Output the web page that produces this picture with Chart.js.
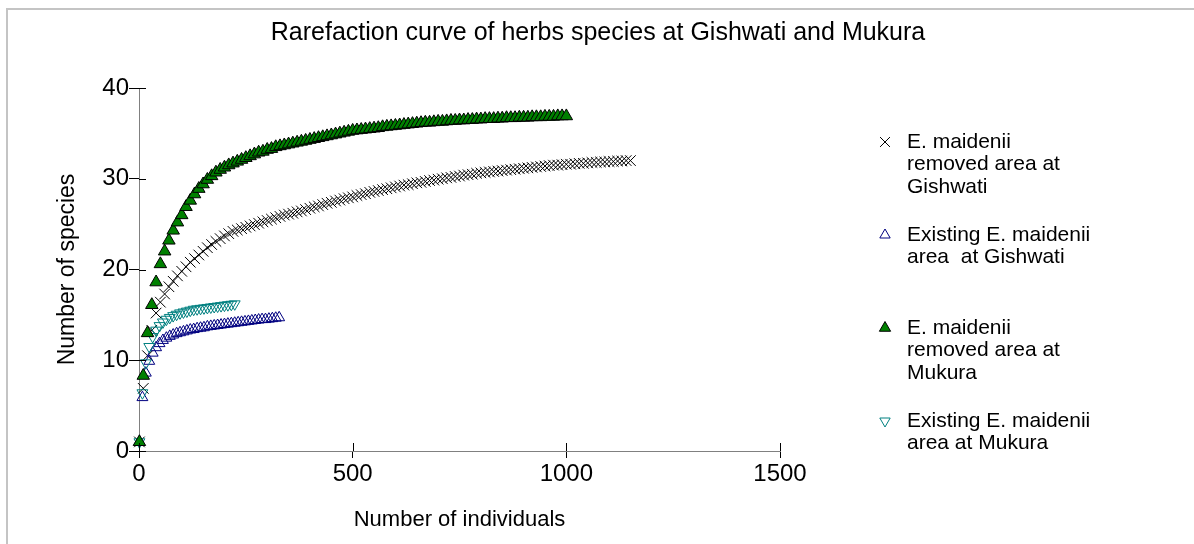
<!DOCTYPE html>
<html>
<head>
<meta charset="utf-8">
<script src="https://cdn.jsdelivr.net/npm/chart.js@4.4.1/dist/chart.umd.min.js"></script>
<style>
html, body { margin: 0; padding: 0; background: #fff; }
#wrap { width: 1194px; height: 544px; }
</style>
</head>
<body>
<div id="wrap"><canvas id="rarefactionChart" width="1194" height="544"></canvas></div>
<script>
var FONT = "'Liberation Sans', Arial, Helvetica, sans-serif";
var titleText = 'Rarefaction curve of herbs species at Gishwati and Mukura';
var xAxisTitle = 'Number of individuals';
var yAxisTitle = 'Number of species';
var xTicks = [0, 500, 1000, 1500];
var yTicks = [0, 10, 20, 30, 40];

// E. maidenii removed area at Gishwati (crosses)
var removedGishwatiX = [1,10,20,30,40,50,60,70,80,90,100,110,120,130,140,150,160,170,180,190,200,210,220,230,240,250,260,270,280,290,300,310,320,330,340,350,360,370,380,390,400,410,420,430,440,450,460,470,480,490,500,510,520,530,540,550,560,570,580,590,600,610,620,630,640,650,660,670,680,690,700,710,720,730,740,750,760,770,780,790,800,810,820,830,840,850,860,870,880,890,900,910,920,930,940,950,960,970,980,990,1000,1010,1020,1030,1040,1050,1060,1070,1080,1090,1100,1110,1120,1130,1140,1150];
var removedGishwatiY = [1,6.9,10.5,13.3,15.2,16.4,17.3,18.1,18.7,19.3,
  19.8,20.3,20.8,21.2,21.6,22.0,22.4,22.75,23.1,23.4,
  23.7,23.95,24.2,24.35,24.5,24.65,24.8,24.95,25.1,25.25,
  25.4,25.55,25.7,25.85,26.0,26.1,26.2,26.35,26.45,26.6,
  26.75,26.9,27.0,27.15,27.3,27.4,27.55,27.65,27.8,27.9,
  28.0,28.15,28.25,28.35,28.5,28.6,28.7,28.8,28.9,29.0,
  29.1,29.2,29.3,29.35,29.45,29.55,29.6,29.7,29.8,29.85,
  29.95,30.0,30.1,30.15,30.25,30.3,30.4,30.45,30.5,30.6,
  30.65,30.7,30.75,30.8,30.85,30.9,30.95,31.0,31.05,31.1,
  31.15,31.2,31.25,31.3,31.35,31.4,31.45,31.5,31.5,31.55,
  31.6,31.6,31.65,31.7,31.7,31.75,31.8,31.8,31.85,31.85,
  31.9,31.9,31.95,31.95,32.0,32.0];

// Existing E. maidenii area at Gishwati (open triangles)
var existingGishwatiX = [1,8,16,24,32,40,48,56,64,72,80,88,96,104,112,120,128,136,144,152,160,168,176,184,192,200,208,216,224,232,240,248,256,264,272,280,288,296,304,312,320,328];
var existingGishwatiY = [1,5.9,8.6,9.9,10.8,11.4,11.85,12.2,12.45,12.65,
  12.8,12.95,13.05,13.15,13.25,13.35,13.4,13.5,13.55,13.6,
  13.7,13.75,13.8,13.85,13.9,13.95,14.0,14.05,14.1,14.15,
  14.2,14.25,14.3,14.35,14.4,14.45,14.5,14.5,14.55,14.6,
  14.65,14.7];

// E. maidenii removed area at Mukura (filled triangles)
var removedMukuraX = [1,10,20,30,40,50,60,70,80,90,100,110,120,130,140,150,160,170,180,190,200,210,220,230,240,250,260,270,280,290,300,310,320,330,340,350,360,370,380,390,400,410,420,430,440,450,460,470,480,490,500,510,520,530,540,550,560,570,580,590,600,610,620,630,640,650,660,670,680,690,700,710,720,730,740,750,760,770,780,790,800,810,820,830,840,850,860,870,880,890,900,910,920,930,940,950,960,970,980,990,1000];
var removedMukuraY = [1,8.3,13.0,16.1,18.6,20.6,22.0,23.2,24.3,25.2,
  26.0,26.9,27.6,28.3,28.9,29.4,29.9,30.3,30.7,31.0,
  31.25,31.5,31.7,31.9,32.1,32.3,32.5,32.7,32.9,33.0,
  33.2,33.3,33.5,33.6,33.7,33.8,33.9,34.0,34.1,34.2,
  34.3,34.4,34.5,34.6,34.7,34.8,34.9,35.0,35.1,35.2,
  35.3,35.35,35.4,35.45,35.5,35.55,35.6,35.7,35.75,35.8,
  35.85,35.9,35.95,36.0,36.05,36.1,36.15,36.2,36.2,36.25,
  36.3,36.3,36.35,36.4,36.4,36.45,36.45,36.5,36.5,36.55,
  36.55,36.6,36.6,36.6,36.65,36.65,36.7,36.7,36.7,36.75,
  36.75,36.75,36.8,36.8,36.8,36.85,36.85,36.85,36.9,36.9,
  36.9];

// Existing E. maidenii area at Mukura (open down triangles)
var existingMukuraX = [1,8,16,24,32,40,48,56,64,72,80,88,96,104,112,120,128,136,144,152,160,168,176,184,192,200,208,216,224];
var existingMukuraY = [1,6.4,9.7,11.5,12.6,13.3,13.8,14.2,14.5,14.7,
  14.9,15.05,15.2,15.3,15.4,15.5,15.6,15.65,15.7,15.75,
  15.8,15.85,15.9,15.95,16.0,16.05,16.1,16.15,16.2];

var legendLines = [
  ['E. maidenii', 'removed area at', 'Gishwati'],
  ['Existing E. maidenii', 'area  at Gishwati'],
  ['E. maidenii', 'removed area at', 'Mukura'],
  ['Existing E. maidenii', 'area at Mukura']
];

function toPoints(xs, ys) {
  return xs.map(function (x, i) { return { x: x, y: ys[i] }; });
}

function drawMarker(ctx, style, x, y, r, rotation, fill, stroke) {
  ctx.save();
  ctx.lineWidth = 1;
  ctx.strokeStyle = stroke;
  ctx.fillStyle = fill;
  ctx.beginPath();
  if (style === 'crossRot') {
    var d = r * Math.SQRT1_2;
    ctx.moveTo(x - d, y - d); ctx.lineTo(x + d, y + d);
    ctx.moveTo(x - d, y + d); ctx.lineTo(x + d, y - d);
    ctx.stroke();
  } else {
    var rad = rotation * Math.PI / 180;
    for (var k = 0; k < 3; k++) {
      var a = rad + k * 2 * Math.PI / 3;
      var px = x + Math.sin(a) * r, py = y - Math.cos(a) * r;
      if (k === 0) ctx.moveTo(px, py); else ctx.lineTo(px, py);
    }
    ctx.closePath();
    ctx.fill();
    ctx.stroke();
  }
  ctx.restore();
}

var extrasPlugin = {
  id: 'extras',
  beforeDraw: function (chart) {
    var ctx = chart.ctx;
    ctx.save();
    ctx.fillStyle = '#fff';
    ctx.fillRect(0, 0, chart.width, chart.height);
    ctx.strokeStyle = '#c4c4c4';
    ctx.lineWidth = 2;
    ctx.strokeRect(7, 9, chart.width + 10, chart.height + 10);
    ctx.restore();
  },
  afterDraw: function (chart) {
    var ctx = chart.ctx;
    var xs = chart.scales.x, ys = chart.scales.y;
    ctx.save();
    ctx.fillStyle = '#000';
    ctx.font = '25px ' + FONT;
    ctx.textAlign = 'center';
    ctx.textBaseline = 'middle';
    ctx.fillText(titleText, 598, 33);

    // tick marks crossing into the plot
    ctx.strokeStyle = '#000';
    ctx.lineWidth = 1;
    ctx.beginPath();
    xTicks.forEach(function (v) {
      var px = Math.round(xs.getPixelForValue(v)) + 0.5;
      ctx.moveTo(px, ys.bottom);
      ctx.lineTo(px, ys.bottom - 8);
    });
    yTicks.forEach(function (v) {
      var py = Math.round(ys.getPixelForValue(v)) + 0.5;
      ctx.moveTo(xs.left, py);
      ctx.lineTo(xs.left + 7, py);
    });
    ctx.stroke();

    // legend
    var legendOrder = [3, 2, 0, 1];
    var rowY = [142, 235, 328, 421];
    ctx.font = '21px ' + FONT;
    ctx.textAlign = 'left';
    legendOrder.forEach(function (di, i) {
      var ds = chart.data.datasets[di];
      drawMarker(ctx, ds.pointStyle, 885, rowY[i], ds.legendRadius, ds.pointRotation || 0,
        ds.pointBackgroundColor, ds.pointBorderColor);
      ctx.fillStyle = '#000';
      legendLines[i].forEach(function (line, j) {
        ctx.fillText(line, 907, rowY[i] + j * 22.5);
      });
    });
    ctx.restore();
  }
};

var ctx = document.getElementById('rarefactionChart').getContext('2d');
var rarefactionChart = new Chart(ctx, {
  type: 'scatter',
  data: {
    datasets: [
      {
        label: 'E. maidenii removed area at Mukura',
        data: toPoints(removedMukuraX, removedMukuraY),
        pointStyle: 'triangle',
        pointRadius: 7.2,
        legendRadius: 6.5,
        pointBackgroundColor: '#008000',
        pointBorderColor: '#000',
        pointBorderWidth: 1,
        clip: false,
        order: 1
      },
      {
        label: 'Existing E. maidenii area at Mukura',
        data: toPoints(existingMukuraX, existingMukuraY),
        pointStyle: 'triangle',
        pointRotation: 180,
        pointRadius: 6.3,
        legendRadius: 6,
        pointBackgroundColor: 'rgba(0,0,0,0)',
        pointBorderColor: '#008080',
        pointBorderWidth: 1,
        clip: false,
        order: 2
      },
      {
        label: 'Existing E. maidenii area at Gishwati',
        data: toPoints(existingGishwatiX, existingGishwatiY),
        pointStyle: 'triangle',
        pointRadius: 6.3,
        legendRadius: 6,
        pointBackgroundColor: 'rgba(0,0,0,0)',
        pointBorderColor: '#000080',
        pointBorderWidth: 1,
        clip: false,
        order: 3
      },
      {
        label: 'E. maidenii removed area at Gishwati',
        data: toPoints(removedGishwatiX, removedGishwatiY),
        pointStyle: 'crossRot',
        pointRadius: 7.5,
        legendRadius: 7,
        pointBackgroundColor: '#000',
        pointBorderColor: '#000',
        pointBorderWidth: 1,
        clip: false,
        order: 4
      }
    ]
  },
  options: {
    responsive: false,
    animation: false,
    devicePixelRatio: 1,
    events: [],
    layout: { padding: { left: 0, top: 88, right: 414, bottom: 0 } },
    plugins: {
      legend: { display: false },
      title: { display: false },
      tooltip: { enabled: false }
    },
    scales: {
      x: {
        type: 'linear',
        min: 0,
        max: 1500,
        afterBuildTicks: function (scale) {
          scale.ticks = xTicks.map(function (v) { return { value: v }; });
        },
        afterFit: function (scale) { scale.height = 93; },
        grid: { drawOnChartArea: false, drawTicks: true, tickLength: 7, tickColor: '#000', color: '#000' },
        border: { display: true, color: '#808080', width: 1 },
        ticks: {
          color: '#000', font: { family: FONT, size: 24 }, padding: 2, maxRotation: 0,
          callback: function (v) { return String(v); }
        },
        title: {
          display: true, text: xAxisTitle, color: '#000',
          font: { family: FONT, size: 22 }, padding: { top: 0, bottom: 11 }
        }
      },
      y: {
        type: 'linear',
        min: 0,
        max: 40,
        afterBuildTicks: function (scale) {
          scale.ticks = yTicks.map(function (v) { return { value: v }; });
        },
        afterFit: function (scale) { scale.width = 139; },
        grid: { drawOnChartArea: false, drawTicks: true, tickLength: 10, tickColor: '#000', color: '#000' },
        border: { display: true, color: '#808080', width: 1 },
        ticks: {
          color: '#000', font: { family: FONT, size: 24 }, padding: 0,
          callback: function (v) { return String(v); }
        },
        title: {
          display: true, text: yAxisTitle, color: '#000',
          font: { family: FONT, size: 23 }, padding: { top: 54, bottom: 0 }
        }
      }
    }
  },
  plugins: [extrasPlugin]
});
</script>
</body>
</html>
